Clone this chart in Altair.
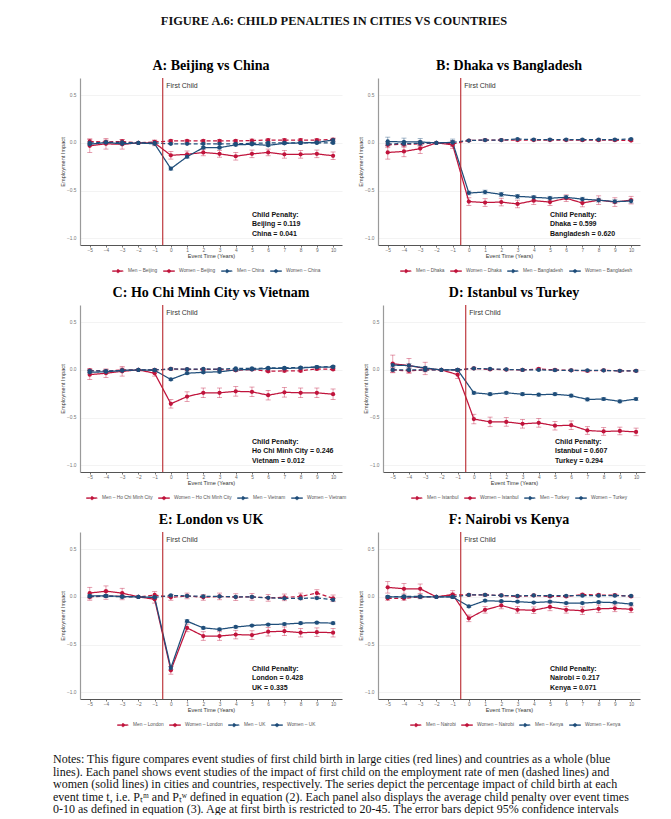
import altair as alt
import pandas as pd

T = list(range(-5, 11))

RED = "#C0143C"
BLUE = "#1F4E7A"
VLINE = "#B8282E"

HEADER = "FIGURE A.6: CHILD PENALTIES IN CITIES VS COUNTRIES"

# ---------------- Panel A: Beijing vs China ----------------
A_MEN_CITY = [0.015, 0.01, 0.015, 0, 0.01, 0.02, 0.02, 0.02, 0.02, 0.02, 0.025, 0.03, 0.03, 0.03, 0.03, 0.035]
A_WOMEN_CITY = [-0.03, -0.01, -0.015, 0, 0.0, -0.13, -0.12, -0.10, -0.115, -0.14, -0.115, -0.10, -0.12, -0.12, -0.115, -0.135]
A_MEN_CTRY = [0.0, 0.005, 0.005, 0, 0.0, -0.01, -0.01, -0.01, -0.01, -0.01, -0.005, 0.0, 0.0, 0.0, 0.0, 0.0]
A_WOMEN_CTRY = [-0.015, 0.005, -0.01, 0, -0.01, -0.27, -0.145, -0.05, -0.05, -0.02, -0.015, -0.025, -0.005, 0.0, 0.005, 0.03]
A_MEN_CITY_CI = [0.025, 0.02, 0.02, 0, 0.015, 0.015, 0.015, 0.015, 0.015, 0.015, 0.015, 0.015, 0.015, 0.015, 0.015, 0.015]
A_WOMEN_CITY_CI = [0.07, 0.055, 0.05, 0, 0.03, 0.04, 0.035, 0.035, 0.035, 0.04, 0.04, 0.035, 0.04, 0.04, 0.04, 0.04]
A_MEN_CTRY_CI = [0.01, 0.01, 0.01, 0, 0.008, 0.008, 0.008, 0.008, 0.008, 0.008, 0.008, 0.008, 0.008, 0.008, 0.008, 0.008]
A_WOMEN_CTRY_CI = [0.015, 0.015, 0.012, 0, 0.01, 0.015, 0.015, 0.012, 0.012, 0.012, 0.012, 0.012, 0.012, 0.012, 0.012, 0.015]
A_PENALTY = [0.119, 0.041]

# ---------------- Panel B: Dhaka vs Bangladesh ----------------
B_MEN_CITY = [-0.02, -0.015, -0.01, 0, -0.01, 0.025, 0.03, 0.03, 0.03, 0.03, 0.03, 0.03, 0.028, 0.028, 0.028, 0.025]
B_WOMEN_CITY = [-0.10, -0.09, -0.06, 0, -0.02, -0.615, -0.625, -0.62, -0.64, -0.605, -0.62, -0.58, -0.63, -0.60, -0.62, -0.60]
B_MEN_CTRY = [-0.01, -0.008, -0.005, 0, 0.005, 0.025, 0.03, 0.03, 0.04, 0.035, 0.035, 0.035, 0.035, 0.035, 0.035, 0.04]
B_WOMEN_CTRY = [0.015, 0.01, 0.01, 0, 0.005, -0.525, -0.515, -0.54, -0.56, -0.57, -0.58, -0.57, -0.59, -0.60, -0.615, -0.61]
B_MEN_CITY_CI = [0.03, 0.03, 0.03, 0, 0.03, 0.01, 0.01, 0.01, 0.01, 0.01, 0.01, 0.01, 0.01, 0.01, 0.01, 0.01]
B_WOMEN_CITY_CI = [0.07, 0.055, 0.05, 0, 0.04, 0.04, 0.04, 0.04, 0.04, 0.04, 0.035, 0.035, 0.04, 0.045, 0.045, 0.04]
B_MEN_CTRY_CI = [0.02, 0.02, 0.02, 0, 0.02, 0.008, 0.008, 0.008, 0.008, 0.008, 0.008, 0.008, 0.008, 0.008, 0.008, 0.008]
B_WOMEN_CTRY_CI = [0.045, 0.04, 0.035, 0, 0.035, 0.02, 0.02, 0.02, 0.02, 0.02, 0.02, 0.02, 0.02, 0.02, 0.02, 0.02]
B_PENALTY = [0.599, 0.620]

# ---------------- Panel C: Ho Chi Minh City vs Vietnam ----------------
C_MEN_CITY = [-0.005, -0.015, 0.0, 0, 0.0, 0.01, 0.005, 0.005, 0.005, -0.005, 0.005, -0.015, -0.01, -0.01, 0.01, 0.005]
C_WOMEN_CITY = [-0.05, -0.035, -0.015, 0, -0.035, -0.355, -0.28, -0.24, -0.24, -0.225, -0.23, -0.265, -0.235, -0.24, -0.24, -0.255]
C_MEN_CTRY = [-0.01, -0.012, -0.008, 0, 0.0, 0.01, 0.008, 0.01, 0.008, 0.015, 0.015, 0.02, 0.022, 0.025, 0.03, 0.035]
C_WOMEN_CTRY = [-0.025, -0.02, -0.005, 0, -0.005, -0.10, -0.035, -0.025, -0.02, 0.0, 0.005, 0.015, 0.015, 0.02, 0.03, 0.03]
C_MEN_CITY_CI = [0.02, 0.02, 0.02, 0, 0.015, 0.012, 0.012, 0.012, 0.012, 0.012, 0.012, 0.012, 0.012, 0.012, 0.012, 0.012]
C_WOMEN_CITY_CI = [0.05, 0.045, 0.05, 0, 0.03, 0.045, 0.05, 0.05, 0.05, 0.05, 0.05, 0.05, 0.05, 0.05, 0.05, 0.055]
C_MEN_CTRY_CI = [0.01, 0.01, 0.01, 0, 0.008, 0.006, 0.006, 0.006, 0.006, 0.006, 0.006, 0.006, 0.006, 0.006, 0.006, 0.006]
C_WOMEN_CTRY_CI = [0.015, 0.015, 0.012, 0, 0.01, 0.012, 0.012, 0.012, 0.012, 0.012, 0.012, 0.012, 0.012, 0.012, 0.012, 0.012]
C_PENALTY = [0.246, 0.012]

# ---------------- Panel D: Istanbul vs Turkey ----------------
D_MEN_CITY = [0.0, -0.01, 0.0, 0, 0.0, 0.015, 0.005, 0.003, 0.0, 0.01, 0.0, -0.005, -0.01, -0.005, -0.01, -0.01]
D_WOMEN_CITY = [0.065, 0.045, 0.015, 0, -0.05, -0.515, -0.545, -0.545, -0.565, -0.555, -0.585, -0.58, -0.635, -0.645, -0.64, -0.65]
D_MEN_CTRY = [0.0, 0.0, 0.0, 0, 0.0, 0.015, 0.01, 0.005, 0.0, 0.0, -0.003, -0.005, -0.006, -0.006, -0.01, -0.01]
D_WOMEN_CTRY = [0.05, 0.045, 0.02, 0, 0.0, -0.24, -0.255, -0.24, -0.255, -0.26, -0.255, -0.27, -0.31, -0.305, -0.33, -0.305]
D_MEN_CITY_CI = [0.03, 0.025, 0.02, 0, 0.015, 0.012, 0.012, 0.012, 0.012, 0.012, 0.012, 0.012, 0.012, 0.012, 0.012, 0.012]
D_WOMEN_CITY_CI = [0.09, 0.075, 0.065, 0, 0.04, 0.05, 0.05, 0.045, 0.045, 0.045, 0.045, 0.045, 0.04, 0.04, 0.04, 0.04]
D_MEN_CTRY_CI = [0.01, 0.01, 0.01, 0, 0.008, 0.006, 0.006, 0.006, 0.006, 0.006, 0.006, 0.006, 0.006, 0.006, 0.006, 0.006]
D_WOMEN_CTRY_CI = [0.02, 0.02, 0.015, 0, 0.012, 0.015, 0.015, 0.015, 0.015, 0.015, 0.015, 0.015, 0.015, 0.015, 0.015, 0.015]
D_PENALTY = [0.607, 0.294]

# ---------------- Panel E: London vs UK ----------------
E_MEN_CITY = [0.0, 0.01, 0.005, 0, 0.02, -0.005, 0.01, -0.005, 0.005, -0.002, 0.0, -0.01, -0.005, 0.005, 0.04, -0.015]
E_WOMEN_CITY = [0.04, 0.06, 0.04, 0, -0.025, -0.77, -0.325, -0.41, -0.41, -0.395, -0.40, -0.365, -0.36, -0.375, -0.37, -0.375]
E_MEN_CTRY = [0.005, 0.01, 0.0, 0, -0.005, 0.015, 0.01, 0.005, 0.005, 0.0, 0.0, -0.01, -0.015, -0.015, -0.012, -0.03]
E_WOMEN_CTRY = [0.01, 0.01, 0.005, 0, -0.005, -0.745, -0.255, -0.325, -0.34, -0.315, -0.30, -0.29, -0.285, -0.275, -0.27, -0.275]
E_MEN_CITY_CI = [0.035, 0.035, 0.035, 0, 0.035, 0.03, 0.03, 0.03, 0.035, 0.035, 0.035, 0.035, 0.035, 0.035, 0.035, 0.035]
E_WOMEN_CITY_CI = [0.06, 0.055, 0.05, 0, 0.04, 0.04, 0.04, 0.045, 0.045, 0.045, 0.045, 0.045, 0.045, 0.045, 0.045, 0.045]
E_MEN_CTRY_CI = [0.01, 0.01, 0.01, 0, 0.01, 0.008, 0.008, 0.008, 0.008, 0.008, 0.008, 0.008, 0.01, 0.01, 0.01, 0.012]
E_WOMEN_CTRY_CI = [0.015, 0.015, 0.012, 0, 0.012, 0.015, 0.015, 0.012, 0.012, 0.012, 0.012, 0.012, 0.012, 0.012, 0.012, 0.012]
E_PENALTY = [0.428, 0.335]

# ---------------- Panel F: Nairobi vs Kenya ----------------
F_MEN_CITY = [-0.015, -0.015, 0.0, 0, 0.02, 0.02, 0.02, 0.015, 0.005, 0.015, 0.005, 0.005, 0.025, 0.02, 0.018, 0.005]
F_WOMEN_CITY = [0.10, 0.085, 0.085, 0, 0.025, -0.225, -0.135, -0.09, -0.135, -0.14, -0.105, -0.135, -0.145, -0.125, -0.12, -0.13]
F_MEN_CTRY = [0.0, 0.005, 0.005, 0, 0.0, 0.02, 0.02, 0.015, 0.01, 0.015, 0.012, 0.012, 0.013, 0.013, 0.013, 0.01]
F_WOMEN_CTRY = [0.0, 0.0, 0.0, 0, 0.0, -0.10, -0.04, -0.045, -0.05, -0.06, -0.05, -0.065, -0.065, -0.055, -0.06, -0.075]
F_MEN_CITY_CI = [0.02, 0.02, 0.02, 0, 0.02, 0.012, 0.012, 0.012, 0.012, 0.012, 0.012, 0.012, 0.012, 0.012, 0.012, 0.012]
F_WOMEN_CITY_CI = [0.06, 0.055, 0.05, 0, 0.04, 0.035, 0.035, 0.035, 0.035, 0.035, 0.04, 0.035, 0.04, 0.04, 0.035, 0.035]
F_MEN_CTRY_CI = [0.008, 0.008, 0.008, 0, 0.006, 0.005, 0.005, 0.005, 0.005, 0.005, 0.005, 0.005, 0.005, 0.005, 0.005, 0.005]
F_WOMEN_CTRY_CI = [0.012, 0.012, 0.01, 0, 0.008, 0.012, 0.01, 0.01, 0.01, 0.01, 0.01, 0.01, 0.01, 0.01, 0.01, 0.012]
F_PENALTY = [0.217, 0.071]

NOTES = [
    "Notes: This figure compares event studies of first child birth in large cities (red lines) and countries as a whole (blue",
    "lines). Each panel shows event studies of the impact of first child on the employment rate of men (dashed lines) and",
    "women (solid lines) in cities and countries, respectively. The series depict the percentage impact of child birth at each",
    "event time t, i.e. Pₜᵐ and Pₜʷ defined in equation (2). Each panel also displays the average child penalty over event times",
    "0-10 as defined in equation (3). Age at first birth is restricted to 20-45. The error bars depict 95% confidence intervals",
]

PANELS = [
    ("A: Beijing vs China", "Beijing", "China",
     [A_MEN_CITY, A_WOMEN_CITY, A_MEN_CTRY, A_WOMEN_CTRY],
     [A_MEN_CITY_CI, A_WOMEN_CITY_CI, A_MEN_CTRY_CI, A_WOMEN_CTRY_CI], A_PENALTY, 32),
    ("B: Dhaka vs Bangladesh", "Dhaka", "Bangladesh",
     [B_MEN_CITY, B_WOMEN_CITY, B_MEN_CTRY, B_WOMEN_CTRY],
     [B_MEN_CITY_CI, B_WOMEN_CITY_CI, B_MEN_CTRY_CI, B_WOMEN_CTRY_CI], B_PENALTY, 22),
    ("C: Ho Chi Minh City vs Vietnam", "Ho Chi Minh City", "Vietnam",
     [C_MEN_CITY, C_WOMEN_CITY, C_MEN_CTRY, C_WOMEN_CTRY],
     [C_MEN_CITY_CI, C_WOMEN_CITY_CI, C_MEN_CTRY_CI, C_WOMEN_CTRY_CI], C_PENALTY, 6),
    ("D: Istanbul vs Turkey", "Istanbul", "Turkey",
     [D_MEN_CITY, D_WOMEN_CITY, D_MEN_CTRY, D_WOMEN_CTRY],
     [D_MEN_CITY_CI, D_WOMEN_CITY_CI, D_MEN_CTRY_CI, D_WOMEN_CTRY_CI], D_PENALTY, 28),
    ("E: London vs UK", "London", "UK",
     [E_MEN_CITY, E_WOMEN_CITY, E_MEN_CTRY, E_WOMEN_CTRY],
     [E_MEN_CITY_CI, E_WOMEN_CITY_CI, E_MEN_CTRY_CI, E_WOMEN_CTRY_CI], E_PENALTY, 37),
    ("F: Nairobi vs Kenya", "Nairobi", "Kenya",
     [F_MEN_CITY, F_WOMEN_CITY, F_MEN_CTRY, F_WOMEN_CTRY],
     [F_MEN_CITY_CI, F_WOMEN_CITY_CI, F_MEN_CTRY_CI, F_WOMEN_CTRY_CI], F_PENALTY, 32),
]

PW, PH = 262, 167
SANS = "Liberation Sans"
SERIF = "Liberation Serif"

XS = alt.Scale(domain=[-5.6, 10.55], nice=False, zero=False)
YS = alt.Scale(domain=[-1.07, 0.68], nice=False, zero=False)
XAX = alt.Axis(values=T, format="d", title="Event Time (Years)", grid=False,
               labelFontSize=4.8, titleFontSize=5.6, tickSize=2, labelPadding=0.5,
               titlePadding=1, domainColor="#555", domainWidth=1, tickColor="#777",
               labelColor="#666", titleColor="#333", labelFont=SANS, titleFont=SANS,
               titleFontWeight="normal")
YAX = alt.Axis(values=[-1.0, -0.5, 0.0, 0.5], format=".1f", title="Employment Impact",
               grid=True, gridColor="#ebebeb", gridWidth=0.6, ticks=False,
               labelPadding=4, titlePadding=1, labelFontSize=4.8, titleFontSize=5.6,
               domainColor="#9a9a9a", domainWidth=1.2, labelColor="#777",
               titleColor="#333", labelFont=SANS, titleFont=SANS, titleFontWeight="normal")

SYMBOL = ("M-1,-0.065L1,-0.065L1,0.065L-1,0.065Z"
          "M0.3,0A0.3,0.3,0,1,1,-0.3,0A0.3,0.3,0,1,1,0.3,0Z")


def panel(title, city, country, series, cis, penalty, legend_x):
    names = [f"Men – {city}", f"Women – {city}", f"Men – {country}", f"Women – {country}"]
    rows = []
    for name, vals, ci in zip(names, series, cis):
        for t, v, c in zip(T, vals, ci):
            rows.append({"t": t, "v": v, "lo": v - c, "hi": v + c, "s": name})
    df = pd.DataFrame(rows)
    cs = alt.Scale(domain=names, range=[RED, RED, BLUE, BLUE])
    ds = alt.Scale(domain=names, range=[[4, 2.5], [1, 0], [4, 2.5], [1, 0]])
    leg = alt.Legend(
        orient="none", legendX=legend_x, legendY=187, direction="horizontal",
        title=None, symbolType=SYMBOL, symbolSize=121, symbolStrokeWidth=0.6,
        symbolDash=[1, 0], symbolOpacity=1,
        labelFontSize=4.8, labelColor="#555", labelFont=SANS, labelOffset=4,
        columnPadding=4, padding=0)
    color = alt.Color("s:N", scale=cs, legend=leg)
    x = alt.X("t:Q", scale=XS, axis=XAX)
    y = alt.Y("v:Q", scale=YS, axis=YAX)
    base = alt.Chart(df)

    err = base.mark_errorbar(ticks=True, size=5, thickness=0.8, opacity=0.5).encode(
        x=x, y=alt.Y("lo:Q", scale=YS, axis=YAX), y2="hi:Q", color=color)
    line = base.mark_line(strokeWidth=1.25).encode(
        x=x, y=y, color=color,
        strokeDash=alt.StrokeDash("s:N", scale=ds, legend=None))
    pts = base.mark_circle(size=18, opacity=1).encode(x=x, y=y, color=color)

    rule = alt.Chart(pd.DataFrame({"t": [-0.5]})).mark_rule(
        color=VLINE, strokeWidth=1.1).encode(x=x)
    fc = alt.Chart(pd.DataFrame({"t": [-0.5], "v": [0.6], "txt": ["First Child"]})).mark_text(
        align="left", baseline="middle", dx=3.5, fontSize=7, font=SANS, color="#333").encode(
        x=x, y=y, text="txt:N")
    pen = alt.Chart(pd.DataFrame({
        "t": [5, 5, 5], "v": [-0.755, -0.855, -0.955],
        "txt": ["Child Penalty:", f"{city} = {penalty[0]:.3f}", f"{country} = {penalty[1]:.3f}"]
    })).mark_text(align="left", baseline="middle", fontSize=7, fontWeight="bold",
                  font=SANS, color="#111").encode(x=x, y=y, text="txt:N")

    return alt.layer(err, line, pts, rule, fc, pen).properties(
        width=PW, height=PH,
        title=alt.TitleParams(title, font=SERIF, fontSize=14, fontWeight="bold",
                              color="#000", offset=4))


def spacer():
    return alt.Chart(pd.DataFrame({"a": [0]})).mark_text(text=" ").encode(
        x=alt.value(0), y=alt.value(0)).properties(width=36, height=10)


rows = []
for i in range(0, 6, 2):
    r = alt.hconcat(spacer(), panel(*PANELS[i]), panel(*PANELS[i + 1]), spacing=16).resolve_scale(
        color="independent", strokeDash="independent")
    rows.append(r)

header = alt.Chart(pd.DataFrame({"s": [HEADER]})).mark_text(
    font=SERIF, fontSize=12.4, fontWeight="bold", baseline="alphabetic", align="center",
    color="#111").encode(x=alt.value(326), y=alt.value(16.5), text="s:N").properties(
    width=655, height=39)

notes_df = pd.DataFrame({"i": list(range(len(NOTES))), "txt": NOTES})
notes = alt.Chart(notes_df).mark_text(
    font=SERIF, fontSize=12, align="left", baseline="middle", color="#111").encode(
    x=alt.value(45),
    y=alt.Y("i:Q", scale=alt.Scale(domain=[0, 4], range=[19, 69]), axis=None),
    text="txt:N").properties(width=655, height=60)

chart = alt.vconcat(header, *rows, notes, spacing=12).resolve_scale(
    color="independent", strokeDash="independent").properties(padding=0).configure_view(
    stroke=None)

chart.save("out.html", embed_options={"renderer": "svg", "actions": False})
